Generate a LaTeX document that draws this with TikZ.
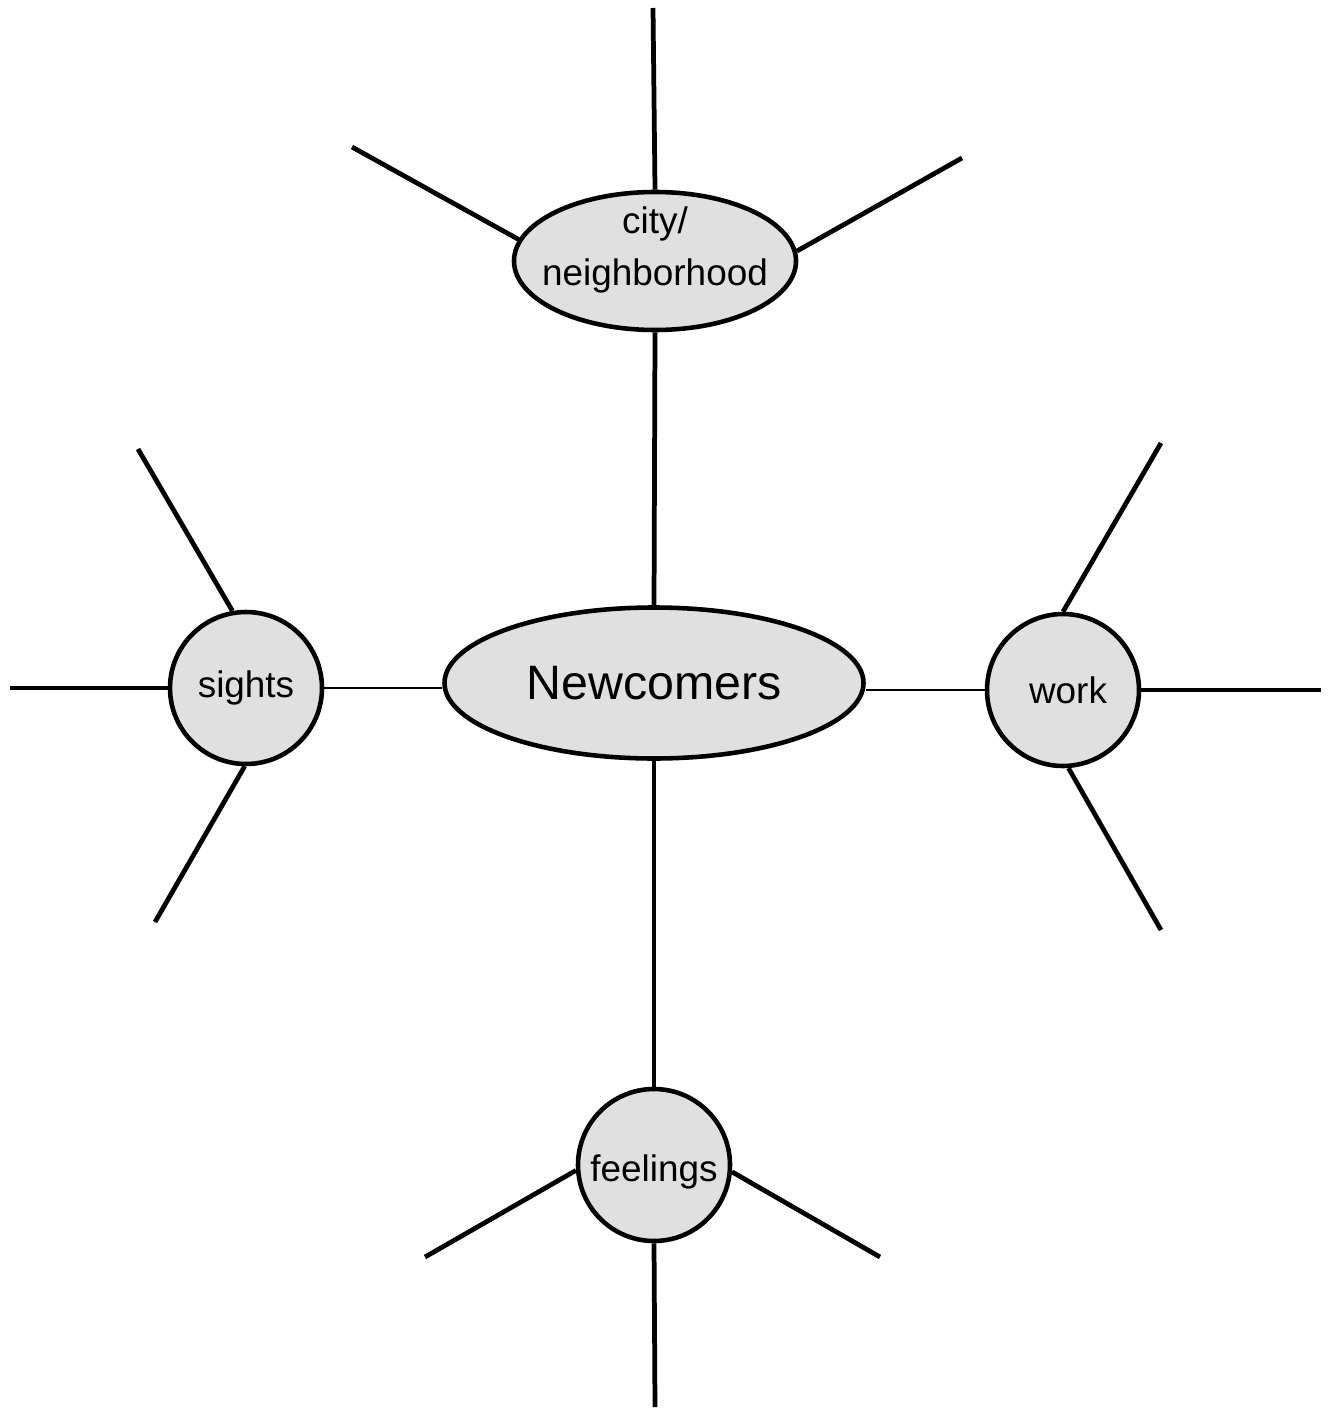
\documentclass[tikz,border=0pt]{standalone}
\usepackage{fontspec}
\setmainfont{Liberation Sans}
\usetikzlibrary{shapes.geometric, calc}
\definecolor{bubble}{RGB}{224, 224, 224}

\begin{document}
\begin{tikzpicture}[
    hub/.style={ellipse, draw, line width=2.6pt, fill=bubble, inner sep=0pt},
    topic/.style={circle, draw, line width=2.6pt, fill=bubble, inner sep=0pt, minimum size=3.04cm, font=\fontsize{21}{30}\selectfont},
    spoke/.style={line width=2.7pt},
    link/.style={line width=1.5pt}
]
    \useasboundingbox (0,0) rectangle (26.6,-28.3);

    % centre and the four topics
    \node[hub, minimum width=8.38cm, minimum height=3.02cm, font=\fontsize{27.5}{33}\selectfont] (newcomers) at (13.08,-13.66) {Newcomers};
    \node[hub, inner xsep=-0.4cm, inner ysep=-0.3cm, minimum width=5.64cm, minimum height=2.76cm, font=\fontsize{21}{30}\selectfont] (city) at (13.1,-5.22)
        {\raisebox{0.24cm}[\height][\depth]{\begin{tabular}{@{}c@{}}city/\\neighborhood\end{tabular}}};
    \node[topic] (sights)   at (4.92,-13.76) {sights};
    \node[topic] (work)     at (21.26,-13.8) {\hspace{0.2cm}work};
    \node[topic] (feelings) at (13.08,-23.3) {\raisebox{-0.14cm}[\height][\depth]{feelings}};

    % free ends of the spokes
    \coordinate (cityTop)    at (13.06,-0.16);
    \coordinate (cityLeft)   at (7.04,-2.94);
    \coordinate (cityRight)  at (19.24,-3.16);
    \coordinate (sightsUp)   at (2.76,-8.98);
    \coordinate (sightsLeft) at (0.2,-13.76);
    \coordinate (sightsDown) at (3.1,-18.44);
    \coordinate (workUp)     at (23.22,-8.86);
    \coordinate (workRight)  at (26.42,-13.8);
    \coordinate (workDown)   at (23.22,-18.6);
    \coordinate (feelLeft)   at (8.5,-25.14);
    \coordinate (feelRight)  at (17.6,-25.14);
    \coordinate (feelDown)   at (13.1,-28.14);

    % links to the centre
    \draw[spoke] (city.south) -- (newcomers.north);
    \draw[spoke] (newcomers.south) -- (feelings.north);
    \draw[link] (sights.east) -- (sights.east -| newcomers.west);
    \draw[link] (work.west) -- (work.west -| newcomers.east);

    % spokes
    \draw[spoke] (city.north) -- (cityTop);
    \draw[spoke] (city.171) -- (cityLeft);
    \draw[spoke] (city.4) -- (cityRight);
    \draw[spoke] (sights.100) -- (sightsUp);
    \draw[spoke] (sights.west) -- (sightsLeft);
    \draw[spoke] (sights.269) -- (sightsDown);
    \draw[spoke] (work.north) -- (workUp);
    \draw[spoke] (work.east) -- (workRight);
    \draw[spoke] (work.274) -- (workDown);
    \draw[spoke] (feelings.184) -- (feelLeft);
    \draw[spoke] (feelings.355) -- (feelRight);
    \draw[spoke] (feelings.south) -- (feelDown);
\end{tikzpicture}
\end{document}
